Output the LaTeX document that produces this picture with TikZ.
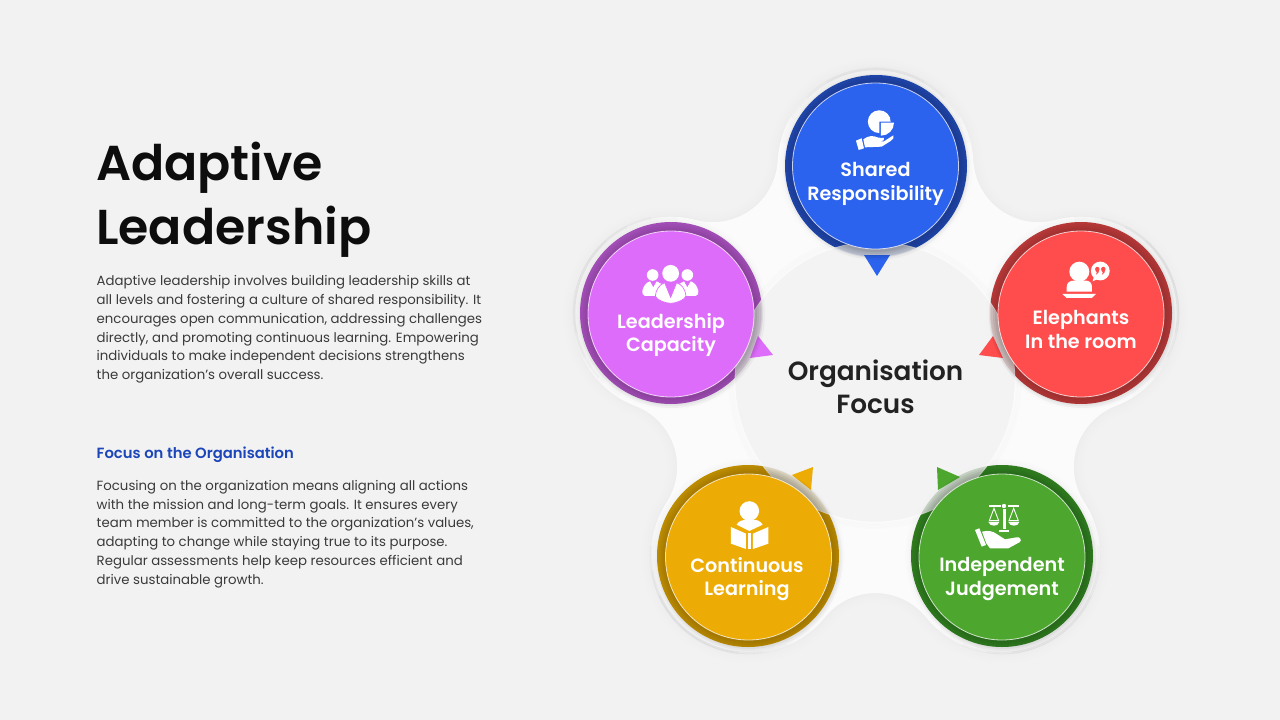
\documentclass[tikz,border=0pt]{standalone}
\usepackage{fontspec}
\setmainfont{Poppins}[BoldFont={Poppins SemiBold}]
\newfontfamily\medfont{Poppins Medium}
\definecolor{bgc}{HTML}{F2F2F2}
\definecolor{blobc}{HTML}{FBFBFB}
\definecolor{ink}{HTML}{222222}
\definecolor{bodyc}{HTML}{3A3A3A}
\definecolor{headc}{HTML}{1B45B8}
\definecolor{bluei}{HTML}{2C63EE}\definecolor{blued}{HTML}{2149B0}
\definecolor{purpi}{HTML}{DE6CFB}\definecolor{purpd}{HTML}{A851BC}
\definecolor{redi}{HTML}{FF4D4D}\definecolor{redd}{HTML}{BC3A3A}
\definecolor{yeli}{HTML}{EDAB05}\definecolor{yeld}{HTML}{C29000}
\definecolor{grei}{HTML}{4DA72F}\definecolor{gred}{HTML}{318020}
\tikzset{
  inner disc/.style={circle,minimum size=166pt,inner sep=0pt,draw=white,draw opacity=.75,line width=.8pt},
  outer disc/.style={circle,minimum size=182pt,inner sep=0pt},
  label text/.style={text=white,font=\bfseries\fontsize{19.2}{23.3}\selectfont,align=center,anchor=center,inner sep=0pt},
  body text/.style={text=bodyc,font=\fontsize{13.3}{18.75}\selectfont,align=left,anchor=north west,inner sep=0pt},
  icon/.style={fill=white,draw=none},
}
\def\blobpath{(973.36,-160.7) \foreach \t in {90,162,234,306,378}{ arc[start angle={\t-86.9},end angle={\t+86.9},radius=98pt] arc[start angle={\t+36+230.9},end angle={\t+36+129.1},radius=65pt] }}
\begin{document}
\begin{tikzpicture}[x=1pt,y=1pt]
\useasboundingbox (0,0) rectangle (1280,-720);
\fill[bgc] (0,0) rectangle (1280,-720);
% soft blob: faint grey glow outside, white inside
\foreach \w in {20,14,9,5,2}{\draw[black,line width=\w pt,opacity=.005] \blobpath -- cycle;}
\fill[blobc] \blobpath -- cycle;
\begin{scope}
\clip \blobpath -- cycle;
\foreach \t/\cx/\cy in {90/875.5/-166,162/671/-313,234/748/-556,306/1002/-556,18/1081/-313}{
  \foreach \s in {40,52,64,76}{
    \draw[bgc,opacity=.3,line width=13pt] ({\cx+92*cos(\t-\s)},{\cy+92*sin(\t-\s)}) arc[start angle={\t-\s},end angle={\t+\s},radius=92pt];
  }
}
\end{scope}
% halo rings
\foreach \t/\cx/\cy in {90/875.5/-166,162/671/-313,234/748/-556,306/1002/-556,18/1081/-313}{
  \foreach \s in {30,45,60}{
    \draw[black,opacity=.02,line width=2.6pt] ({\cx+97*cos(\t-\s)},{\cy+97*sin(\t-\s)}) arc[start angle={\t-\s},end angle={\t+\s},radius=97pt];
  }
}
% shadow of dark discs
\foreach \cx/\cy in {876/-166,671/-313,1081/-313,748/-556,1002/-556}{
  \foreach \r in {97,95,93}{\fill[black,opacity=.009] (\cx,\cy) circle[radius=\r pt];}
}
% dark discs
\node[outer disc,fill=blued] (dt) at (876,-166) {};
\node[outer disc,fill=purpd] (dl) at (671,-313) {};
\node[outer disc,fill=redd] (dr) at (1081,-313) {};
\node[outer disc,fill=yeld] (dbl) at (748,-556) {};
\node[outer disc,fill=gred] (dbr) at (1002,-556) {};
% glow + centre disc
\foreach \r in {146,144.5,143,141.5}{\draw[black,opacity=.008,line width=1.8pt] (875,-382) circle[radius=\r pt];}
\node[circle,minimum size=280pt,inner sep=0pt,fill=bgc,fill opacity=.84,draw=white,draw opacity=.6,line width=.8pt] (centre) at (875,-382) {};
% pointers
\fill[bluei] (864,-255) -- (890,-255) -- (877,-276) -- cycle;
\fill[purpi] (758,-336) -- (773,-355) -- (750,-358) -- cycle;
\fill[redi] (993,-336) -- (979,-355) -- (1003,-358) -- cycle;
\fill[yeli] (792,-475) -- (813,-467) -- (811,-490) -- cycle;
\fill[grei] (937,-467) -- (960,-477) -- (938,-490) -- cycle;
% shadows of inner discs
\foreach \cx/\cy in {875.5/-166,671/-314,1081/-314,748.5/-557,1002/-557}{
  \foreach \r in {93,91,89,87,85}{\fill[black,opacity=.03] (\cx+1,\cy-1) circle[radius=\r pt];}
}
\begin{scope}
\clip (875,-382) circle[radius=140pt];
\foreach \cx/\cy in {875.5/-166,671/-314,1081/-314,748.5/-557,1002/-557}{
  \foreach \r in {92,90,88,86}{\fill[black,opacity=.03] (\cx,\cy) circle[radius=\r pt];}
}
\end{scope}
% inner discs
\node[inner disc,fill=bluei] (it) at (875.5,-166) {};
\node[inner disc,fill=purpi] (il) at (671,-314) {};
\node[inner disc,fill=redi] (ir) at (1081,-314) {};
\node[inner disc,fill=yeli] (ibl) at (748.5,-557) {};
\node[inner disc,fill=grei] (ibr) at (1002,-557) {};
% icon: shared responsibility
\begin{scope}[shift={(760,-50)},x=.3333pt,y=-.3333pt]
\fill[icon] (358,215) -- (392,215) arc[start angle=0,end angle=270,radius=11.4pt] -- cycle;
\fill[icon] (363,218) -- (402,218) arc[start angle=0,end angle=-90,radius=13pt] -- cycle;
\fill[icon] (310,268) .. controls (325,256) and (340,256) .. (355,263) -- (372,264) .. controls (375,270) and (372,273) .. (355,274) -- (372,274) -- (400,256) .. controls (404,262) and (398,270) .. (392,273) -- (365,290) -- (315,292) -- cycle;
\fill[icon] (288,272) -- (305,265) -- (312,295) -- (296,300) -- cycle;
\end{scope}
% icon: leadership
\begin{scope}[shift={(560,-210)},x=.3333pt,y=-.3333pt]
\fill[icon] (278,195) circle[radius=5.8pt] (382,195) circle[radius=5.8pt] (332,190) circle[radius=8.4pt];
\fill[icon] (247,243) .. controls (250,228) and (258,218) .. (270,214) -- (280,232) -- (290,214) -- (310,225) -- (300,258) -- (255,258) .. controls (248,256) and (246,250) .. (247,243) -- cycle;
\fill[icon] (415,243) .. controls (412,228) and (404,218) .. (392,214) -- (382,232) -- (372,214) -- (352,225) -- (362,258) -- (407,258) .. controls (414,256) and (416,250) .. (415,243) -- cycle;
\filldraw[fill=white,draw=purpi,line width=.7pt] (286,258) .. controls (288,238) and (298,224) .. (314,218) -- (332,262) -- (350,218) .. controls (366,224) and (376,238) .. (378,258) .. controls (376,268) and (350,280) .. (332,280) .. controls (314,280) and (288,268) .. (286,258) -- cycle;
\fill[purpi] (328,222) -- (336,222) -- (334,232) -- (337,248) -- (332,258) -- (327,248) -- (330,232) -- cycle;
\end{scope}
% icon: elephants
\begin{scope}[shift={(960,-210)},x=.3333pt,y=-.3333pt]
\fill[icon] (358,185) circle[radius=10pt];
\fill[icon] (320,245) -- (320,232) .. controls (320,218) and (330,212) .. (340,212) -- (378,212) .. controls (388,212) and (396,218) .. (396,232) -- (396,245) -- cycle;
\fill[icon] (307,252) -- (408,252) -- (396,264) -- (320,264) -- cycle;
\fill[icon] (421,183) circle[radius=9.4pt];
\fill[icon] (403,196) -- (398,214) -- (416,206) -- cycle;
\fill[redi] (412,177) circle[radius=2.2pt] (430,177) circle[radius=2.2pt];
\fill[redi] (407,178) -- (418,178) .. controls (418,186) and (414,192) .. (408,194) .. controls (412,188) and (411,184) .. (407,183) -- cycle;
\fill[redi] (425,178) -- (436,178) .. controls (436,186) and (432,192) .. (426,194) .. controls (430,188) and (429,184) .. (425,183) -- cycle;
\end{scope}
% icon: continuous learning
\begin{scope}[shift={(640,-450)},x=.3333pt,y=-.3333pt]
\fill[icon] (328,183) circle[radius=9.8pt];
\fill[icon] (290,224) .. controls (296,214) and (306,209) .. (316,209) -- (340,209) .. controls (352,209) and (362,214) .. (368,224) -- (328,243) -- cycle;
\fill[icon] (273,231) -- (318,251) -- (318,297) -- (273,281) -- cycle;
\fill[icon] (385,231) -- (339,251) -- (339,297) -- (385,281) -- cycle;
\fill[icon] (323,250) -- (334,250) -- (334,298) -- (323,298) -- cycle;
\end{scope}
% icon: independent judgement
\begin{scope}[shift={(880,-450)},x=.3333pt,y=-.3333pt]
\fill[icon] (372,168) circle[radius=2.2pt];
\fill[icon] (368,178) rectangle (377,238);
\fill[icon] (358,240) rectangle (387,247);
\fill[icon] (327,166) rectangle (362,171);
\fill[icon] (383,166) rectangle (417,171);
\draw[white,line width=.9pt] (342,175) -- (328,212) -- (356,212) -- cycle;
\draw[white,line width=.9pt] (401,175) -- (387,212) -- (415,212) -- cycle;
\fill[icon] (325,216) -- (358,216) .. controls (356,224) and (350,227) .. (342,227) .. controls (334,227) and (328,224) .. (325,216) -- cycle;
\fill[icon] (385,216) -- (418,216) .. controls (416,224) and (410,227) .. (402,227) .. controls (394,227) and (388,224) .. (385,216) -- cycle;
\fill[icon] (285,240) -- (298,235) -- (318,285) -- (305,290) -- cycle;
\fill[icon] (306,245) .. controls (325,240) and (340,244) .. (350,252) -- (375,268) -- (410,262) .. controls (420,260) and (426,270) .. (420,276) -- (385,295) -- (330,295) -- (319,280) -- cycle;
\end{scope}
% texts
\node[anchor=north west,inner sep=0pt,align=left,font=\bfseries\fontsize{49}{64}\selectfont,text=black!95] (title) at (96,-142) {Adaptive\\Leadership};
\node[body text] (bodya) at (96.5,-275.5) {Adaptive leadership involves building leadership skills at\\all levels and fostering a culture of shared responsibility. It\\encourages open communication, addressing challenges\\directly, and promoting continuous learning. Empowering\\individuals to make independent decisions strengthens\\the organization’s overall success.};
\node[anchor=west,inner sep=0pt,text=headc,font=\bfseries\fontsize{14.8}{17}\selectfont] (heading) at (96.5,-455) {Focus on the Organisation};
\node[body text] (bodyb) at (96.5,-480) {Focusing on the organization means aligning all actions\\with the mission and long-term goals. It ensures every\\team member is committed to the organization's values,\\adapting to change while staying true to its purpose.\\Regular assessments help keep resources efficient and\\drive sustainable growth.};
\node[label text] (lt) at (875.5,-184) {Shared\\Responsibility};
\node[label text] (ll) at (671,-335) {Leadership\\Capacity};
\node[label text] (lr) at (1081,-329.5) {Elephants\\In the room};
\node[label text] (lbl) at (747,-579) {Continuous\\Learning};
\node[label text] (lbr) at (1002,-579) {Independent\\Judgement};
\node[anchor=center,inner sep=0pt,align=center,text=ink,font=\bfseries\fontsize{26.3}{33}\selectfont] (focus) at (875.5,-387) {Organisation\\Focus};
\end{tikzpicture}
\end{document}
